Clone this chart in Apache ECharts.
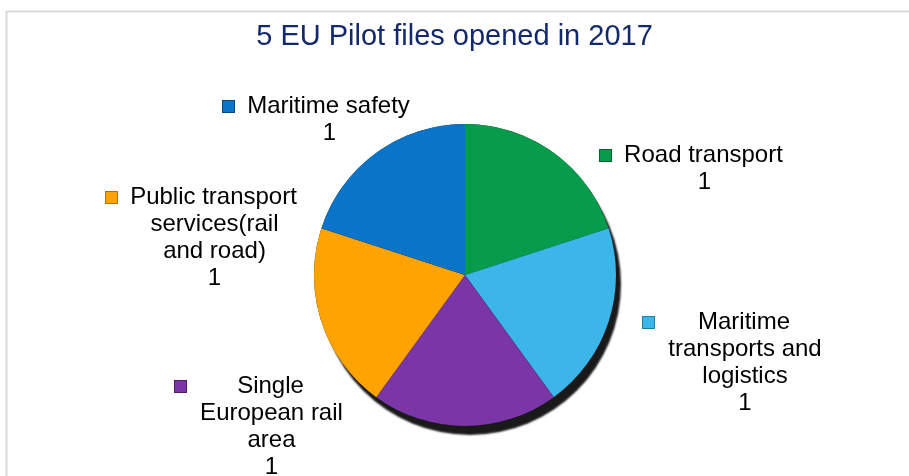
<!DOCTYPE html>
<html>
<head>
<meta charset="utf-8">
<script src="https://cdn.jsdelivr.net/npm/echarts@6/dist/echarts.min.js"></script>
<style>
html,body{margin:0;padding:0;background:#fff;}
#chart{width:909px;height:476px;}
</style>
</head>
<body>
<div id="chart"></div>
<script>
// ---- data ----
var titleText = '5 EU Pilot files opened in 2017';
var categories = ['Road transport', 'Maritime transports and logistics', 'Single European rail area', 'Public transport services(rail and road)', 'Maritime safety'];
var labelLinesText = [
  ['Road transport'],
  ['Maritime', 'transports and', 'logistics'],
  ['Single', 'European rail', 'area'],
  ['Public transport', 'services(rail', 'and road)'],
  ['Maritime safety']
];
var values = [1, 1, 1, 1, 1];

// ---- styles / layout ----
var colors = ['#079C4B', '#3CB5E8', '#7A36A6', '#FFA302', '#0A74C8'];
var iconBorders = ['#05612E', '#1E7FA8', '#4B1D6A', '#B36F00', '#07497F'];
var labelAnchors = [[600, 142], [643, 309], [175, 373], [106, 184], [223, 93]];
var FONT = '"Liberation Sans", Arial, sans-serif';
var FS = 24, LH = 27;

var ctx = document.createElement('canvas').getContext('2d');
ctx.font = FS + 'px ' + FONT;
function blockWidth(lines) {
  var w = 0;
  lines.forEach(function (l) { w = Math.max(w, ctx.measureText(l).width); });
  return Math.ceil(w) + 2;
}

var pieData = categories.map(function (name, i) {
  var lines = labelLinesText[i].concat([String(values[i])]);
  var W = blockWidth(lines);
  var str = lines.map(function (l, k) {
    return (k === 0 ? '{ic|}' : '{sp|}') + '{gap|}{t|' + l + '}';
  }).join('\n');
  return {
    name: name,
    value: values[i],
    itemStyle: { color: colors[i] },
    label: {
      formatter: str,
      rich: {
        ic: { width: 11, height: 11, backgroundColor: colors[i], borderColor: iconBorders[i], borderWidth: 1, verticalAlign: 'middle' },
        sp: { width: 13, height: 11 },
        gap: { width: 11 },
        t: { width: W, align: 'center', fontSize: FS, lineHeight: LH, fontFamily: FONT, color: '#000' }
      }
    }
  };
});

var total = values.reduce(function (a, b) { return a + b; }, 0);

var chart = echarts.init(document.getElementById('chart'), null, { renderer: 'canvas' });
chart.setOption({
  backgroundColor: '#fff',
  animation: false,
  title: {
    text: titleText,
    left: 'center',
    top: 17,
    textStyle: { fontFamily: FONT, fontSize: 29, fontWeight: 'normal', color: '#13296B' }
  },
  graphic: [{
    type: 'rect', silent: true, z: -10,
    shape: { x: 6.5, y: 11.5, width: 1000, height: 1000 },
    style: { fill: 'none', stroke: '#D9D9D9', lineWidth: 2 }
  }],
  series: [{
    type: 'pie',
    silent: true,
    z: 1,
    center: [465, 275],
    radius: 151,
    startAngle: 90,
    label: { show: false },
    labelLine: { show: false },
    itemStyle: { color: '#000', shadowColor: 'rgba(0,0,0,0.9)', shadowBlur: 2, shadowOffsetX: 5, shadowOffsetY: 9 },
    data: [{ value: total, name: 'shadow' }]
  }, {
    type: 'pie',
    z: 2,
    center: [465, 275],
    radius: 151,
    startAngle: 90,
    clockwise: true,
    itemStyle: { borderWidth: 0 },
    label: { show: true, position: 'outside', fontFamily: FONT, fontSize: FS, lineHeight: LH, color: '#000' },
    labelLine: { show: false },
    labelLayout: function (p) {
      var a = labelAnchors[p.dataIndex];
      return { x: a[0], y: a[1], align: 'left', verticalAlign: 'top', hideOverlap: false, moveOverlap: null };
    },
    data: pieData
  }]
});
</script>
</body>
</html>
